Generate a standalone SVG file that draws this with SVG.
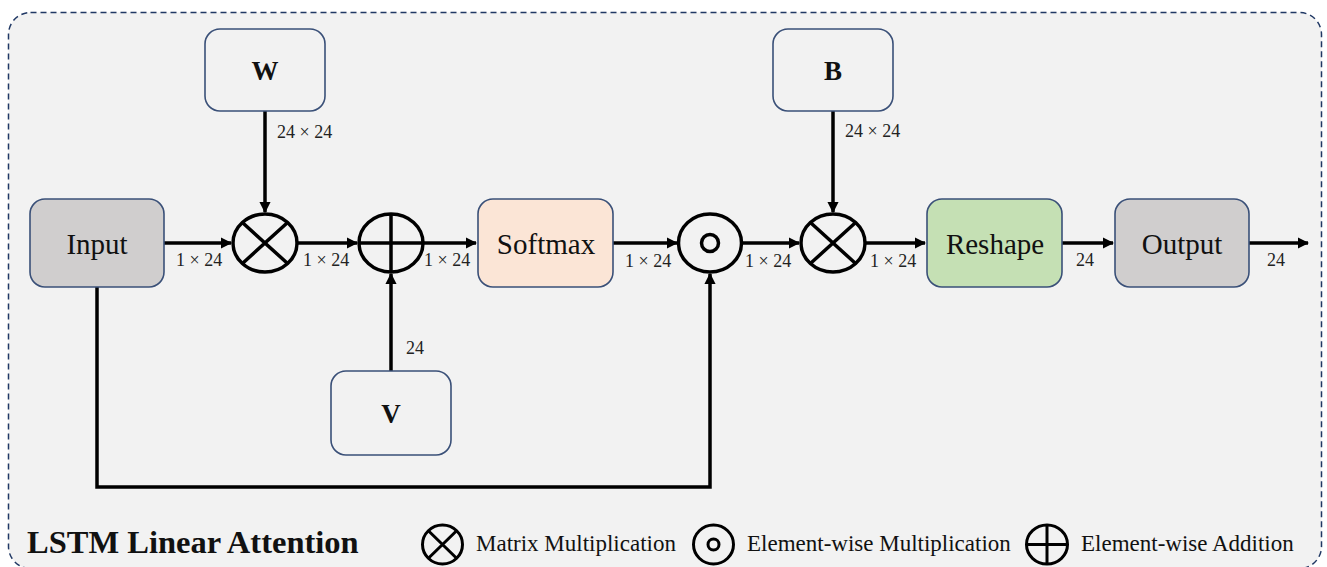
<svg xmlns="http://www.w3.org/2000/svg" width="1327" height="567" viewBox="0 0 1327 567">
<defs>
<style>
text{font-family:"Liberation Serif","Times New Roman",Times,"DejaVu Serif",serif}
.box{stroke:#3a5078;stroke-width:1.6}
.lbl{font-size:29px;fill:#111;text-anchor:middle}
.blbl{font-size:27px;font-weight:bold;fill:#111;text-anchor:middle}
.dim{font-size:18px;fill:#222}
.op{fill:none;stroke:#000;stroke-width:3.5}
.lop{fill:none;stroke:#000;stroke-width:3}
.wire{fill:none;stroke:#000;stroke-width:3.5}
.leg{font-size:23px;fill:#111}
</style>
<marker id="ah" viewBox="0 0 10 10" refX="9" refY="5" markerWidth="3.2" markerHeight="3.2" orient="auto" markerUnits="strokeWidth">
<path d="M0,0 L10,5 L0,10 z" fill="#000"/>
</marker>
</defs>
<rect x="8.5" y="12.5" width="1313" height="556" rx="22" fill="#f2f2f2" stroke="#203864" stroke-width="1.5" stroke-dasharray="6 4"/>

<g id="connectors">
<path class="wire" d="M164,243 H231" marker-end="url(#ah)"/>
<path class="wire" d="M297,243 H357" marker-end="url(#ah)"/>
<path class="wire" d="M423,243 H476" marker-end="url(#ah)"/>
<path class="wire" d="M613,243 H677" marker-end="url(#ah)"/>
<path class="wire" d="M742,243 H799" marker-end="url(#ah)"/>
<path class="wire" d="M865,243 H925" marker-end="url(#ah)"/>
<path class="wire" d="M1062,243 H1113" marker-end="url(#ah)"/>
<path class="wire" d="M1249,243 H1308" marker-end="url(#ah)"/>
<path class="wire" d="M265,111 V212" marker-end="url(#ah)"/>
<path class="wire" d="M833,111 V212" marker-end="url(#ah)"/>
<path class="wire" d="M391,371 V274" marker-end="url(#ah)"/>
<path class="wire" d="M97,287 V487 H710 V274" marker-end="url(#ah)"/>
<text class="dim" x="176" y="266">1 × 24</text>
<text class="dim" x="303" y="266">1 × 24</text>
<text class="dim" x="424" y="266">1 × 24</text>
<text class="dim" x="625" y="267">1 × 24</text>
<text class="dim" x="745" y="267">1 × 24</text>
<text class="dim" x="870" y="267">1 × 24</text>
<text class="dim" x="1076" y="266">24</text>
<text class="dim" x="1267" y="266">24</text>
<text class="dim" x="277" y="138">24 × 24</text>
<text class="dim" x="845" y="137">24 × 24</text>
<text class="dim" x="406" y="354">24</text>
</g>

<g id="input"><rect class="box" x="30" y="199" width="134" height="88" rx="15" fill="#d0cece"/><text class="lbl" x="97" y="254">Input</text></g>
<g id="w"><rect class="box" x="205" y="29" width="120" height="82" rx="15" fill="#f2f2f2"/><text class="blbl" x="265" y="80">W</text></g>
<g id="v"><rect class="box" x="331" y="371" width="120" height="84" rx="15" fill="#f2f2f2"/><text class="blbl" x="391" y="423">V</text></g>
<g id="b"><rect class="box" x="773" y="29" width="120" height="82" rx="15" fill="#f2f2f2"/><text class="blbl" x="833" y="80">B</text></g>
<g id="softmax"><rect class="box" x="478" y="199" width="135" height="88" rx="15" fill="#fbe5d6"/><text class="lbl" x="546" y="254">Softmax</text></g>
<g id="reshape"><rect class="box" x="927" y="199" width="135" height="88" rx="15" fill="#c5e0b4"/><text class="lbl" x="995" y="254">Reshape</text></g>
<g id="output"><rect class="box" x="1115" y="199" width="134" height="88" rx="15" fill="#d0cece"/><text class="lbl" x="1182" y="254">Output</text></g>

<g id="matmul1"><ellipse class="op" cx="265" cy="243" rx="32" ry="29"/><path class="op" d="M242.4,222.5 L287.6,263.5 M287.6,222.5 L242.4,263.5"/></g>
<g id="add"><ellipse class="op" cx="391" cy="243" rx="32" ry="29"/><path class="op" d="M359,243 H423 M391,214 V272"/></g>
<g id="elemmul"><ellipse class="op" cx="710" cy="243" rx="31.5" ry="29"/><circle class="op" cx="710" cy="243" r="8.5"/></g>
<g id="matmul2"><ellipse class="op" cx="833" cy="243" rx="32" ry="29"/><path class="op" d="M810.4,222.5 L855.6,263.5 M855.6,222.5 L810.4,263.5"/></g>

<g id="legend">
<text x="27" y="553" font-size="32.5" font-weight="bold" fill="#111">LSTM Linear Attention</text>
<ellipse class="lop" cx="442.5" cy="544.5" rx="20" ry="19.5"/>
<path class="lop" d="M428.4,530.7 L456.6,558.3 M456.6,530.7 L428.4,558.3"/>
<text class="leg" x="476" y="551">Matrix Multiplication</text>
<ellipse class="lop" cx="713.5" cy="544.5" rx="20" ry="19.5"/>
<circle class="lop" cx="713.5" cy="544.5" r="5.5"/>
<text class="leg" x="747" y="551">Element-wise Multiplication</text>
<ellipse class="lop" cx="1047" cy="544.5" rx="20.5" ry="19.5"/>
<path class="lop" d="M1026.5,544.5 H1067.5 M1047,525 V564"/>
<text class="leg" x="1081" y="551">Element-wise Addition</text>
</g>
</svg>
